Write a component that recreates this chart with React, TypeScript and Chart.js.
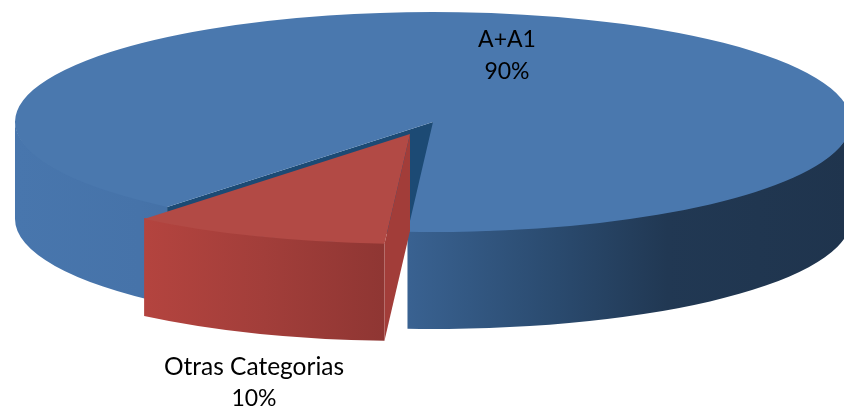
import React, { useEffect, useRef } from "react";
import { Chart, registerables } from "chart.js";

Chart.register(...registerables);

const categories = ["A+A1", "Otras Categorias"];
const values = [90, 10];
const percentLabels = ["90%", "10%"];
const topColors = ["#4a78ae", "#b24a45"];

const CX = 433;
const CY = 122;
const RADIUS = 418;
const SQUASH = 110 / 418;
const DEPTH = 97;
const EXPLODE = [-23, 12];
const ROTATION = 219.5;

const labelPos = [
  { x: 507, y1: 40, y2: 72, nameSize: 23 },
  { x: 254, y1: 367, y2: 399, nameSize: 24.5 },
];

const FONT_FAMILY = "Lato, Carlito, sans-serif";

function blueSideGradient(ctx: CanvasRenderingContext2D) {
  const g = ctx.createLinearGradient(15, 0, 851, 0);
  g.addColorStop(0, "#4876ad");
  g.addColorStop(0.15, "#4673a9");
  g.addColorStop(0.46, "#3a6393");
  g.addColorStop(0.65, "#2a4a6e");
  g.addColorStop(0.78, "#213853");
  g.addColorStop(1, "#1f344d");
  return g;
}

function redSideGradient(ctx: CanvasRenderingContext2D) {
  const g = ctx.createLinearGradient(143, 0, 385, 0);
  g.addColorStop(0, "#b4443f");
  g.addColorStop(0.5, "#a23e3a");
  g.addColorStop(1, "#8f3633");
  return g;
}

function drawSide(
  ctx: CanvasRenderingContext2D,
  cx: number,
  cy: number,
  r: number,
  start: number,
  end: number,
  fill: CanvasGradient | string
) {
  const TAU = Math.PI * 2;
  for (let k = -1; k < 3; k++) {
    const a = Math.max(start, k * TAU);
    const b = Math.min(end, k * TAU + Math.PI);
    if (b <= a) continue;
    ctx.beginPath();
    // the upper rim sits 1px under the top face so no seam shows between them
    ctx.ellipse(cx, cy - 1, r, r * SQUASH, 0, a, b);
    ctx.ellipse(cx, cy + DEPTH, r, r * SQUASH, 0, b, a, true);
    ctx.closePath();
    ctx.fillStyle = fill;
    ctx.fill();
  }
}

function drawWall(
  ctx: CanvasRenderingContext2D,
  cx: number,
  cy: number,
  r: number,
  angle: number,
  fill: string
) {
  const ex = cx + Math.cos(angle) * r;
  const ey = cy + Math.sin(angle) * r * SQUASH;
  ctx.beginPath();
  ctx.moveTo(cx, cy);
  ctx.lineTo(ex, ey);
  ctx.lineTo(ex, ey + DEPTH);
  ctx.lineTo(cx, cy + DEPTH);
  ctx.closePath();
  ctx.fillStyle = fill;
  ctx.fill();
}

const pie3d = {
  id: "pie3d",
  beforeDatasetDraw(chart: any) {
    const ctx: CanvasRenderingContext2D = chart.ctx;
    const [blue, red] = chart.getDatasetMeta(0).data as any[];

    const drawTop = (arc: any, cx: number, cy: number) => {
      ctx.save();
      ctx.translate(cx, cy);
      ctx.scale(1, SQUASH);
      ctx.translate(-arc.x, -arc.y);
      arc.draw(ctx);
      ctx.restore();
    };

    drawSide(ctx, CX, CY, blue.outerRadius, blue.startAngle, blue.endAngle, blueSideGradient(ctx));
    drawWall(ctx, CX, CY, blue.outerRadius, blue.startAngle, "#1c4a74");
    drawTop(blue, CX, CY);

    const rx = CX + EXPLODE[0];
    const ry = CY + EXPLODE[1];
    drawSide(ctx, rx, ry, red.outerRadius, red.startAngle, red.endAngle, redSideGradient(ctx));
    drawWall(ctx, rx, ry, red.outerRadius, red.startAngle, "#a23d39");
    drawTop(red, rx, ry);
    return false;
  },
  afterDraw(chart: any) {
    const ctx: CanvasRenderingContext2D = chart.ctx;
    ctx.save();
    ctx.fillStyle = "#000000";
    ctx.textAlign = "center";
    ctx.textBaseline = "middle";
    categories.forEach((name, i) => {
      ctx.font = `${labelPos[i].nameSize}px ${FONT_FAMILY}`;
      ctx.fillText(name, labelPos[i].x, labelPos[i].y1);
      ctx.font = `23px ${FONT_FAMILY}`;
      ctx.fillText(percentLabels[i], labelPos[i].x, labelPos[i].y2);
    });
    ctx.restore();
  },
};

export default function App() {
  const ref = useRef<HTMLCanvasElement>(null);

  useEffect(() => {
    document.body.style.margin = "0";
    document.body.style.background = "#ffffff";
    const chart = new Chart(ref.current!, {
      type: "pie",
      data: {
        labels: categories,
        datasets: [
          {
            data: values,
            backgroundColor: topColors,
            borderWidth: 0,
            hoverOffset: 0,
            radius: RADIUS,
            clip: false,
          } as any,
        ],
      },
      options: {
        responsive: false,
        animation: false,
        rotation: ROTATION,
        layout: { padding: 0 },
        events: [],
        plugins: {
          legend: { display: false },
          tooltip: { enabled: false },
        },
      },
      plugins: [pie3d],
    });
    return () => chart.destroy();
  }, []);

  return <canvas ref={ref} width={844} height={413} style={{ display: "block" }} />;
}
